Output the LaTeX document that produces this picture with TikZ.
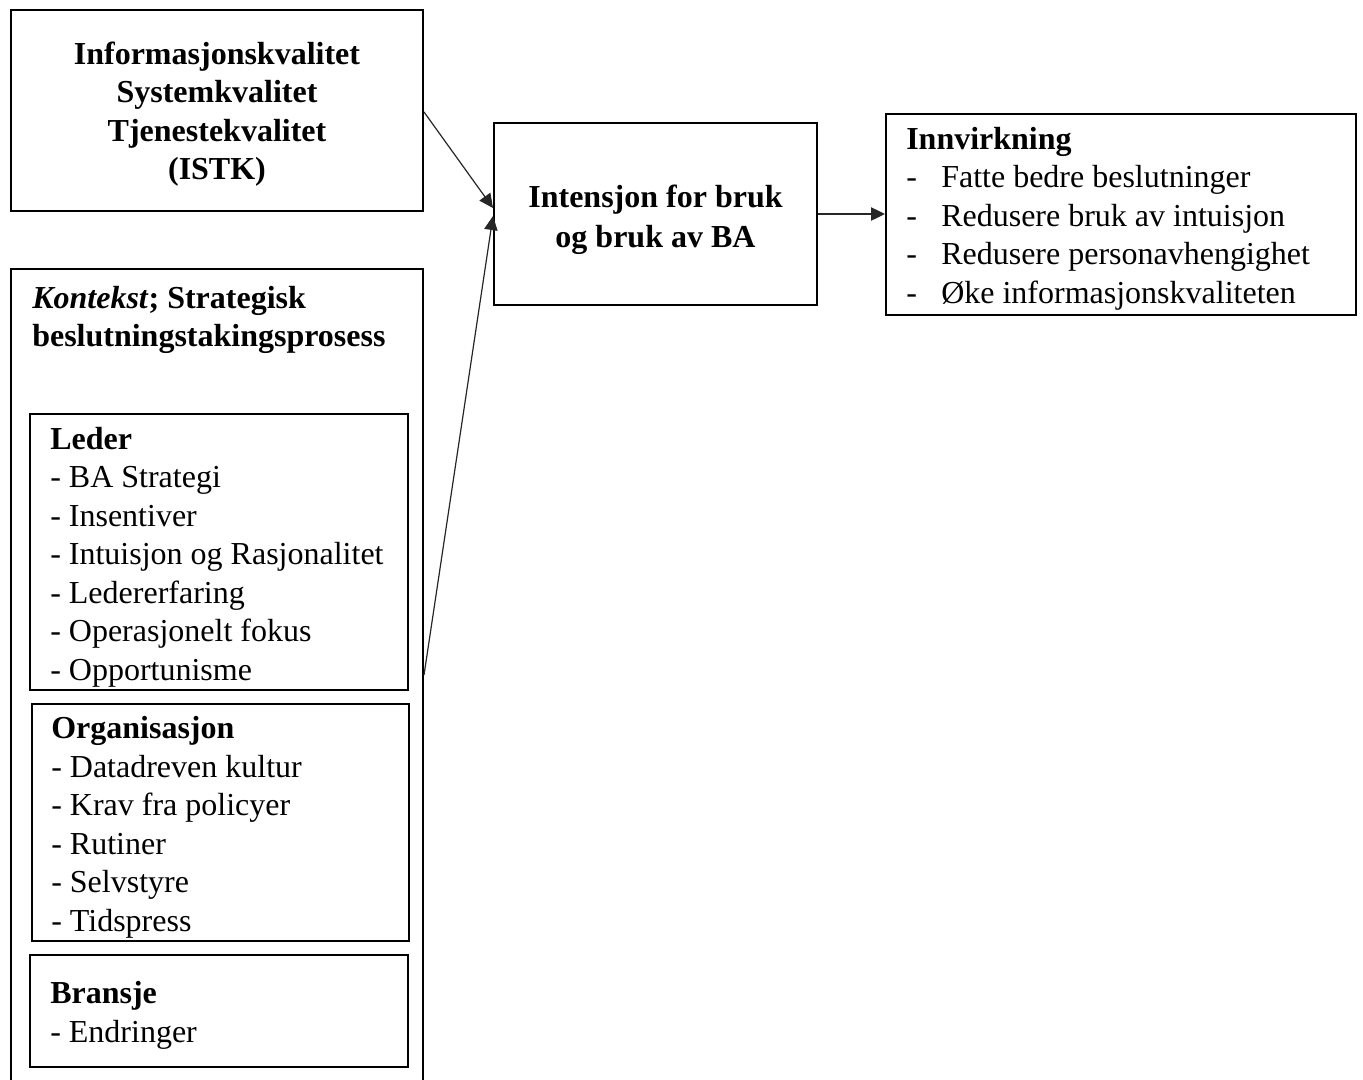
\documentclass[tikz,border=0pt]{standalone}
\usepackage{fontspec}
\setmainfont{Liberation Serif}
\usetikzlibrary{arrows.meta}
\begin{document}
\begin{tikzpicture}[x=0.75pt,y=-0.75pt,
  box/.style={draw,line width=1.5pt,inner sep=0pt},
  ctr/.style={inner sep=0pt,align=center,font=\fontsize{24}{28.875}\selectfont\bfseries},
  txt/.style={anchor=north west,inner sep=0pt,align=left,font=\fontsize{24}{28.875}\selectfont},
  conn/.style={line width=0.9pt,draw=black!85,-{Triangle[length=10.5pt,width=10pt]}}]
\useasboundingbox (0,0) rectangle (1363,1079);
\clip (0,0) rectangle (1363,1079);
% top-left box
\node[box,minimum width=309pt,minimum height=150.75pt] (istk) at (217,110.5) {};
\node[ctr] (istkt) at (217,114)
  {Informasjonskvalitet\\Systemkvalitet\\Tjenestekvalitet\\(ISTK)};
% middle box
\node[box,minimum width=242.25pt,minimum height=136.5pt] (intens) at (655.5,214) {};
\node[ctr,font=\fontsize{24}{30}\selectfont\bfseries] (intenst) at (655.5,220)
  {Intensjon for bruk\\og bruk av BA};
% right box
\node[box,minimum width=352.5pt,minimum height=150.75pt] (innv) at (1121,214.5) {};
\node[txt] (innvt) at (906,122.05)
  {\strut\textbf{Innvirkning}\\
   \strut\makebox[26.25pt][l]{-}Fatte bedre beslutninger\\
   \strut\makebox[26.25pt][l]{-}Redusere bruk av intuisjon\\
   \strut\makebox[26.25pt][l]{-}Redusere personavhengighet\\
   \strut\makebox[26.25pt][l]{-}Øke informasjonskvaliteten};
% context box
\node[box,minimum width=309pt,minimum height=623.25pt] (ctx) at (217,684.5) {};
\node[txt] (ctxt) at (32,281)
  {\strut\textbf{\textit{Kontekst}; Strategisk}\\
   \strut\textbf{beslutningstakingsprosess}};
% Leder
\node[box,minimum width=283.5pt,minimum height=207pt] (leder) at (219,552) {};
\node[txt] (ledert) at (50,422)
  {\strut\textbf{Leder}\\
   \strut- BA Strategi\\
   \strut- Insentiver\\
   \strut- Intuisjon og Rasjonalitet\\
   \strut- Ledererfaring\\
   \strut- Operasjonelt fokus\\
   \strut- Opportunisme};
% Organisasjon
\node[box,minimum width=282.75pt,minimum height=177.75pt] (org) at (220.5,822.5) {};
\node[txt] (orgt) at (51,711.5)
  {\strut\textbf{Organisasjon}\\
   \strut- Datadreven kultur\\
   \strut- Krav fra policyer\\
   \strut- Rutiner\\
   \strut- Selvstyre\\
   \strut- Tidspress};
% Bransje
\node[box,minimum width=283.5pt,minimum height=84pt] (bransje) at (219,1011) {};
\node[txt] (bransjet) at (50,976.5)
  {\strut\textbf{Bransje}\\
   \strut- Endringer};
% connectors
\draw[conn] ([yshift=-1.1pt]istk.east) -- ([yshift=4.5pt]intens.west);
\draw[conn] ([yshift=7.1pt]ctx.east) -- ([yshift=-1.5pt]intens.west);
\draw[conn] (intens.east) -- (intens.east -| innv.west);
\end{tikzpicture}
\end{document}
